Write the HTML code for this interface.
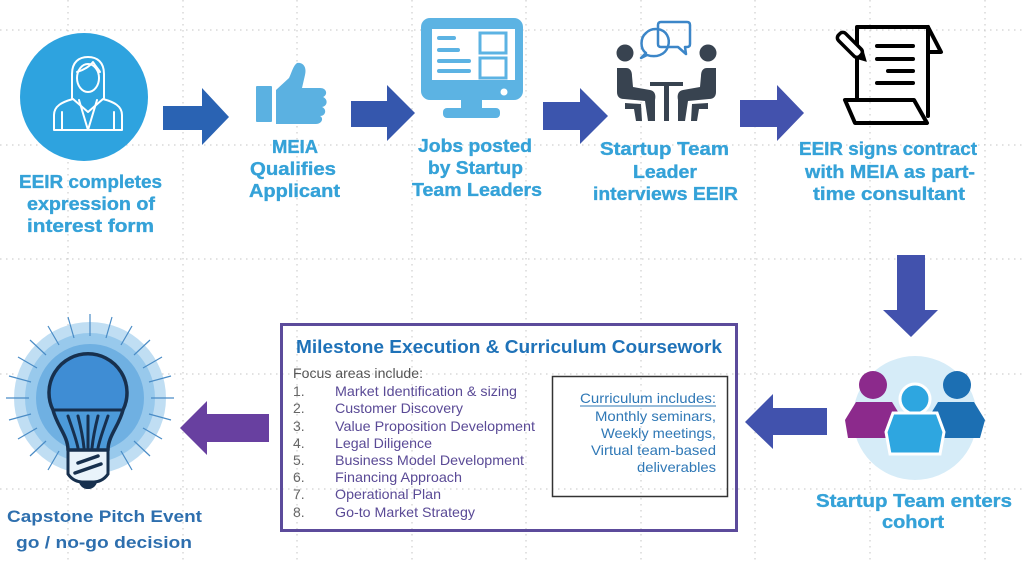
<!DOCTYPE html>
<html><head><meta charset="utf-8"><style>
html,body{margin:0;padding:0;background:#fff;}
svg{display:block;}
text{font-family:"Liberation Sans",Arial,sans-serif;}
</style></head><body>
<svg width="1024" height="562" viewBox="0 0 1024 562" xmlns="http://www.w3.org/2000/svg">
<rect width="1024" height="562" fill="#fff"/>
<!-- grid -->
<g stroke="#c4c4c4" stroke-width="1" stroke-dasharray="1.5 4.5">
<line x1="68" y1="0" x2="68" y2="562"/><line x1="183" y1="0" x2="183" y2="562"/><line x1="297" y1="0" x2="297" y2="562"/>
<line x1="412" y1="0" x2="412" y2="562"/><line x1="526" y1="0" x2="526" y2="562"/><line x1="641" y1="0" x2="641" y2="562"/>
<line x1="755" y1="0" x2="755" y2="562"/><line x1="870" y1="0" x2="870" y2="562"/><line x1="985" y1="0" x2="985" y2="562"/>
<line x1="0" y1="30" x2="1024" y2="30"/><line x1="0" y1="145" x2="1024" y2="145"/><line x1="0" y1="259" x2="1024" y2="259"/>
<line x1="0" y1="374" x2="1024" y2="374"/><line x1="0" y1="489" x2="1024" y2="489"/>
</g>

<!-- circle woman icon -->
<circle cx="84" cy="97" r="64" fill="#2ea3df"/>
<g fill="none" stroke="#fff" stroke-width="2" stroke-linejoin="round" stroke-linecap="round">
<path d="M72,98 L72,74 C72,62 79,57 88,57 C97,57 104,62 104,74 L104,98"/>
<ellipse cx="88" cy="78" rx="11" ry="14"/>
<path d="M77,72 C84,70 90,66 93,62 C96,67 99,70 100,72"/>
<path d="M54,130 L54,115 C54,106 62,102 73,99 L88,112 L103,99 C114,102 122,106 122,115 L122,130 Z"/>
<path d="M79,100 L88,130 L97,100"/>
<line x1="62" y1="112" x2="62" y2="130"/><line x1="114" y1="112" x2="114" y2="130"/>
</g>

<!-- arrows -->
<path d="M163,106 L202,106 L202,88 L229,117 L202,145 L202,130 L163,130 Z" fill="#2a63b3"/>
<path d="M351,101 L387,101 L387,85 L415,113 L387,141 L387,127 L351,127 Z" fill="#3557ad"/>
<path d="M543,102 L580,102 L580,88 L608,116 L580,144 L580,130 L543,130 Z" fill="#3c55ad"/>
<path d="M740,100 L777,100 L777,85 L804,113 L777,141 L777,127 L740,127 Z" fill="#4352ad"/>
<path d="M897,255 L925,255 L925,310 L938,310 L911,337 L883,310 L897,310 Z" fill="#4252ad"/>
<path d="M745,422 L773,394 L773,408 L827,408 L827,435 L773,435 L773,449 Z" fill="#4152ad"/>
<path d="M180,428 L207,401 L207,414 L269,414 L269,442 L207,442 L207,455 Z" fill="#6840a0"/>

<!-- thumbs up -->
<g fill="#5bb1e1">
<rect x="256" y="86" width="16" height="36" rx="1"/>
<path d="M276,90 L289,78 C292,72 293,66 297,63 C303,62 307,67 305,75 L302,88 L320,88 C327,88 328,95 323,97 C328,99 328,106 322,107 C327,109 326,116 320,116 C324,118 322,124 316,124 L276,124 Z"/>
</g>

<!-- monitor -->
<g>
<rect x="421" y="18" width="102" height="82" rx="9" fill="#5cb3e3"/>
<rect x="432" y="29" width="83" height="51" fill="#fff"/>
<rect x="461" y="98" width="21" height="12" fill="#5cb3e3"/>
<rect x="443" y="108" width="57" height="10" rx="4" fill="#5cb3e3"/>
<circle cx="504" cy="92" r="3.5" fill="#fff"/>
<g stroke="#5cb3e3" stroke-width="4" stroke-linecap="round">
<line x1="439" y1="38" x2="454" y2="38"/><line x1="439" y1="50" x2="458" y2="50"/>
<line x1="439" y1="61" x2="469" y2="61"/><line x1="439" y1="71" x2="469" y2="71"/>
</g>
<g fill="none" stroke="#5cb3e3" stroke-width="3">
<rect x="480" y="33" width="26" height="20"/><rect x="480" y="58" width="26" height="20"/>
</g>
</g>

<!-- interview icon -->
<g fill="#384350">
<circle cx="625" cy="53" r="8.5"/>
<path d="M617,68 L626,68 C630,68 632,71 632,76 L633,87 L650,90 C655,91 656,95 655,100 L655,121 L648,121 L645,101 L624,99 C619,99 617,96 617,92 Z"/>
<path d="M625,103 L641,104 L642,121 L636,121 L634,109 L625,109 Z"/>
<g transform="translate(1333,0) scale(-1,1)">
<circle cx="625" cy="53" r="8.5"/>
<path d="M617,68 L626,68 C630,68 632,71 632,76 L633,87 L650,90 C655,91 656,95 655,100 L655,121 L648,121 L645,101 L624,99 C619,99 617,96 617,92 Z"/>
<path d="M625,103 L641,104 L642,121 L636,121 L634,109 L625,109 Z"/>
</g>
<rect x="650" y="82" width="33" height="4"/>
<rect x="664" y="85" width="5" height="36"/>
</g>
<g fill="none" stroke="#3c86c8" stroke-width="2.5" stroke-linejoin="round">
<path d="M646,53 C640,49 640,38 646,33 C652,27 663,28 667,35 C671,42 668,52 660,55 C655,57 650,56 647,55 L641,58 Z"/>
<path d="M661,22 L687,22 C689,22 690,23 690,25 L690,44 C690,46 689,47 687,47 L685,47 L686,54 L678,47 L661,47 C659,47 658,46 658,44 L658,25 C658,23 659,22 661,22 Z"/>
</g>

<!-- contract icon -->
<g fill="none" stroke="#000" stroke-width="4" stroke-linejoin="round" stroke-linecap="round">
<path d="M857,100 L857,27 L928,27 L928,116"/>
<path d="M928,27 L941,52 L928,52"/>
<path d="M845,100 L914,100 L927,123 L855,123 Z"/>
<line x1="877" y1="46" x2="913" y2="46"/><line x1="877" y1="59" x2="913" y2="59"/>
<line x1="888" y1="71" x2="913" y2="71"/><line x1="877" y1="83" x2="913" y2="83"/>
</g>
<g transform="rotate(45 852 47)">
<rect x="834" y="42" width="30" height="10" rx="4" fill="#fff" stroke="#000" stroke-width="3.5"/>
<path d="M864,42 L873,47 L864,52 Z" fill="#000"/>
</g>

<!-- labels -->
<g font-weight="bold" font-size="18" fill="#35a2d8" stroke="#35a2d8" stroke-width="0.35">
<text x="19" y="188" textLength="143" lengthAdjust="spacingAndGlyphs">EEIR completes</text>
<text x="27" y="210" textLength="128" lengthAdjust="spacingAndGlyphs">expression of</text>
<text x="27" y="232" textLength="127" lengthAdjust="spacingAndGlyphs">interest form</text>
<text x="272" y="153" textLength="46" lengthAdjust="spacingAndGlyphs">MEIA</text>
<text x="250" y="175" textLength="86" lengthAdjust="spacingAndGlyphs">Qualifies</text>
<text x="249" y="197" textLength="91" lengthAdjust="spacingAndGlyphs">Applicant</text>
<text x="418" y="152" textLength="114" lengthAdjust="spacingAndGlyphs">Jobs posted</text>
<text x="428" y="174" textLength="95" lengthAdjust="spacingAndGlyphs">by Startup</text>
<text x="412" y="196" textLength="130" lengthAdjust="spacingAndGlyphs">Team Leaders</text>
<text x="600" y="155" textLength="129" lengthAdjust="spacingAndGlyphs">Startup Team</text>
<text x="633" y="178" textLength="64" lengthAdjust="spacingAndGlyphs">Leader</text>
<text x="593" y="200" textLength="145" lengthAdjust="spacingAndGlyphs">interviews EEIR</text>
<text x="799" y="155" textLength="178" lengthAdjust="spacingAndGlyphs">EEIR signs contract</text>
<text x="805" y="178" textLength="170" lengthAdjust="spacingAndGlyphs">with MEIA as part-</text>
<text x="813" y="200" textLength="152" lengthAdjust="spacingAndGlyphs">time consultant</text>
<text x="816" y="507" textLength="196" lengthAdjust="spacingAndGlyphs">Startup Team enters</text>
<text x="882" y="528" textLength="62" lengthAdjust="spacingAndGlyphs">cohort</text>
</g>

<!-- people icon -->
<circle cx="915" cy="418" r="62" fill="#d6ecf8"/>
<g fill="#8c2a8c"><circle cx="873" cy="385" r="14"/><path d="M856,402 L892,402 L903,420 L898,438 L848,438 L845,420 Z"/></g>
<g fill="#1c6fb3"><circle cx="957" cy="385" r="14"/><path d="M938,402 L974,402 L985,420 L980,438 L930,438 L927,420 Z"/></g>
<g fill="#2ea6e0" stroke="#fff" stroke-width="3"><circle cx="915" cy="399" r="15"/><path d="M893,413 L937,413 L944,432 L940,454 L890,454 L886,432 Z"/></g>

<!-- milestone box -->
<rect x="281.5" y="324.5" width="455" height="206" fill="none" stroke="#5c4b9b" stroke-width="3"/>
<text x="296" y="353" font-size="18" font-weight="bold" fill="#1f72b8" textLength="426" lengthAdjust="spacingAndGlyphs">Milestone Execution &amp; Curriculum Coursework</text>
<g font-size="14">
<text x="293" y="378" fill="#555" textLength="130" lengthAdjust="spacingAndGlyphs">Focus areas include:</text>
<g fill="#666">
<text x="293" y="396">1.</text><text x="293" y="413">2.</text><text x="293" y="431">3.</text><text x="293" y="448">4.</text>
<text x="293" y="465">5.</text><text x="293" y="482">6.</text><text x="293" y="499">7.</text><text x="293" y="517">8.</text>
</g>
<g fill="#5a4a96">
<text x="335" y="396" textLength="182" lengthAdjust="spacingAndGlyphs">Market Identification &amp; sizing</text>
<text x="335" y="413" textLength="128" lengthAdjust="spacingAndGlyphs">Customer Discovery</text>
<text x="335" y="431" textLength="200" lengthAdjust="spacingAndGlyphs">Value Proposition Development</text>
<text x="335" y="448" textLength="97" lengthAdjust="spacingAndGlyphs">Legal Diligence</text>
<text x="335" y="465" textLength="189" lengthAdjust="spacingAndGlyphs">Business Model Development</text>
<text x="335" y="482" textLength="127" lengthAdjust="spacingAndGlyphs">Financing Approach</text>
<text x="335" y="499" textLength="106" lengthAdjust="spacingAndGlyphs">Operational Plan</text>
<text x="335" y="517" textLength="140" lengthAdjust="spacingAndGlyphs">Go-to Market Strategy</text>
</g>
</g>
<rect x="552.5" y="376.5" width="175" height="120" fill="none" stroke="#333" stroke-width="1.5"/>
<g font-size="14" fill="#2f78b6">
<text x="580" y="403" textLength="136" lengthAdjust="spacingAndGlyphs">Curriculum includes:</text>
<line x1="580" y1="406" x2="716" y2="406" stroke="#2f78b6" stroke-width="1"/>
<text x="595" y="421" textLength="121" lengthAdjust="spacingAndGlyphs">Monthly seminars,</text>
<text x="601" y="438" textLength="115" lengthAdjust="spacingAndGlyphs">Weekly meetings,</text>
<text x="591" y="455" textLength="125" lengthAdjust="spacingAndGlyphs">Virtual team-based</text>
<text x="637" y="472" textLength="79" lengthAdjust="spacingAndGlyphs">deliverables</text>
</g>

<!-- lightbulb -->
<circle cx="90" cy="398" r="76" fill="#c0def3"/>
<circle cx="90" cy="398" r="65" fill="#98c9ec"/>
<circle cx="90" cy="398" r="54" fill="#6fb0e2"/>
<g stroke="#4a8cc6" stroke-width="1.2">
<line x1="90" y1="336" x2="90" y2="314"/>
<line x1="106" y1="338" x2="112" y2="317"/><line x1="74" y1="338" x2="68" y2="317"/>
<line x1="121" y1="345" x2="132" y2="326"/><line x1="59" y1="345" x2="48" y2="326"/>
<line x1="134" y1="355" x2="150" y2="340"/><line x1="46" y1="355" x2="30" y2="340"/>
<line x1="143" y1="368" x2="162" y2="357"/><line x1="37" y1="368" x2="18" y2="357"/>
<line x1="149" y1="382" x2="171" y2="376"/><line x1="31" y1="382" x2="9" y2="376"/>
<line x1="151" y1="398" x2="174" y2="398"/><line x1="29" y1="398" x2="6" y2="398"/>
<line x1="149" y1="414" x2="171" y2="420"/><line x1="31" y1="414" x2="9" y2="420"/>
<line x1="143" y1="428" x2="162" y2="439"/><line x1="37" y1="428" x2="18" y2="439"/>
<line x1="134" y1="441" x2="150" y2="456"/><line x1="46" y1="441" x2="30" y2="456"/>
<line x1="121" y1="451" x2="132" y2="470"/><line x1="59" y1="451" x2="48" y2="470"/>
</g>
<path d="M53,410 A39,39 0 1 1 123,410 C119,426 108,436 108,450 L68,450 C68,436 57,426 53,410 Z" fill="#4c9ad9"/>
<path d="M53,410 A39,39 0 1 1 123,410 Z" fill="#3f8dd4"/>
<g fill="none" stroke="#17304e" stroke-width="3" stroke-linecap="round">
<path d="M53,410 L123,410"/>
<path d="M68,416 C72,428 76,438 78,448"/><path d="M78,416 C81,428 83,438 84,448"/>
<path d="M88,416 L88,448"/><path d="M98,416 C95,428 93,438 92,448"/><path d="M108,416 C104,428 100,438 98,448"/>
</g>
<path d="M68,450 L108,450 L108,474 C104,480 98,482 94,482 L82,482 C78,482 72,480 68,474 Z" fill="#e9f3fb" stroke="#17304e" stroke-width="3"/>
<path d="M80,482 C82,490 94,490 96,482" fill="#17304e" stroke="#17304e" stroke-width="2"/>
<g stroke="#17304e" stroke-width="3.5" stroke-linecap="round">
<line x1="78" y1="463" x2="98" y2="456"/><line x1="75" y1="473" x2="101" y2="464"/>
</g>
<path d="M53,410 A39,39 0 1 1 123,410 C119,426 108,436 108,450 L68,450 C68,436 57,426 53,410 Z" fill="none" stroke="#17304e" stroke-width="3.5" stroke-linejoin="round"/>

<g font-size="17" font-weight="bold" fill="#2e6fae">
<text x="7" y="522" textLength="195" lengthAdjust="spacingAndGlyphs">Capstone Pitch Event</text>
<text x="16" y="548" textLength="176" lengthAdjust="spacingAndGlyphs">go / no-go decision</text>
</g>
</svg>
</body></html>
